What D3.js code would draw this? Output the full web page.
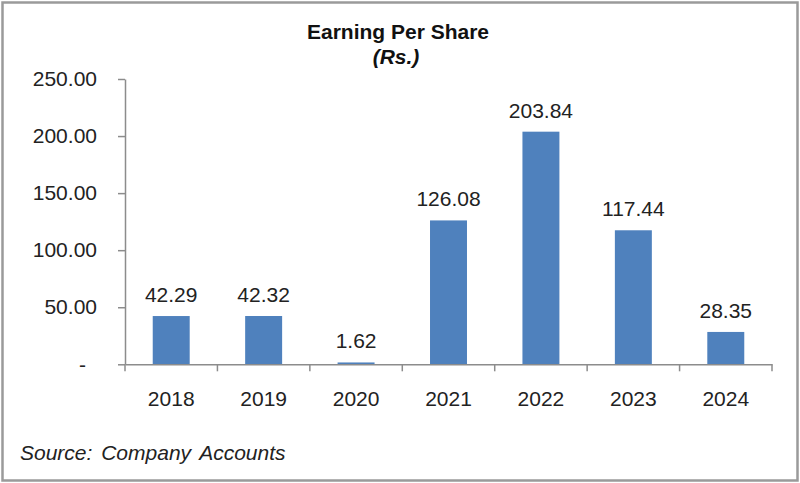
<!DOCTYPE html>
<html>
<head>
<meta charset="utf-8">
<script src="https://cdn.jsdelivr.net/npm/d3@7"></script>
<style>
  html, body { margin: 0; padding: 0; background: #fff; }
  svg { display: block; font-family: "Liberation Sans", Arial, sans-serif; }
</style>
</head>
<body>
<div id="chart"></div>
<script>
// data
const years = ["2018", "2019", "2020", "2021", "2022", "2023", "2024"];
const eps = [42.29, 42.32, 1.62, 126.08, 203.84, 117.44, 28.35];
const yTicks = [0, 50, 100, 150, 200, 250];

const W = 800, H = 483;
const plot = { left: 125, right: 772, top: 79, bottom: 364.3 };

const svg = d3.select("#chart").append("svg")
  .attr("width", W)
  .attr("height", H);

// outer frame
svg.append("rect")
  .attr("x", 2.5).attr("y", 2.5)
  .attr("width", W - 5).attr("height", H - 5)
  .attr("fill", "#fff")
  .attr("stroke", "#9a9a9a")
  .attr("stroke-width", 2.5);

// titles
svg.append("text")
  .attr("x", 398).attr("y", 39)
  .attr("text-anchor", "middle")
  .attr("font-size", 21).attr("font-weight", "bold")
  .attr("fill", "#111")
  .text("Earning Per Share");

svg.append("text")
  .attr("x", 396).attr("y", 64)
  .attr("text-anchor", "middle")
  .attr("font-size", 21).attr("font-weight", "bold").attr("font-style", "italic")
  .attr("fill", "#111")
  .text("(Rs.)");

// scales
const x = d3.scaleBand()
  .domain(years)
  .range([plot.left, plot.right])
  .paddingInner(0.6)
  .paddingOuter(0.3);

const y = d3.scaleLinear()
  .domain([0, 250])
  .range([plot.bottom, plot.top]);

// y axis
const yAxis = svg.append("g")
  .attr("transform", `translate(${plot.left},0)`)
  .call(d3.axisLeft(y)
    .tickValues(yTicks)
    .tickSize(7)
    .tickSizeOuter(0)
    .tickPadding(21)
    .tickFormat(d => d === 0 ? "-" : d3.format(".2f")(d)));

yAxis.select(".domain").attr("stroke", "#8c8c8c").attr("stroke-width", 1.5);
yAxis.selectAll(".tick line").attr("stroke", "#8c8c8c").attr("stroke-width", 1.5);
yAxis.selectAll(".tick text")
  .attr("font-size", 21)
  .attr("fill", "#222")
  .attr("font-family", "Liberation Sans, Arial, sans-serif");
yAxis.selectAll(".tick text").filter(d => d === 0).attr("dx", -11);

// bars
svg.append("g")
  .selectAll("rect")
  .data(eps)
  .join("rect")
  .attr("x", (d, i) => x(years[i]))
  .attr("y", d => y(d))
  .attr("width", x.bandwidth())
  .attr("height", d => y(0) - y(d))
  .attr("fill", "#4f81bd");

// value labels
svg.append("g")
  .selectAll("text")
  .data(eps)
  .join("text")
  .attr("x", (d, i) => x(years[i]) + x.bandwidth() / 2)
  .attr("y", d => y(d) - 14)
  .attr("text-anchor", "middle")
  .attr("font-size", 21)
  .attr("fill", "#222")
  .text(d => d3.format(".2f")(d));

// x axis
const xAxis = svg.append("g")
  .attr("transform", `translate(0,${plot.bottom})`)
  .call(d3.axisBottom(x).tickSize(0).tickSizeOuter(0).tickPadding(27));

xAxis.select(".domain").attr("stroke", "#8c8c8c").attr("stroke-width", 1.5);
xAxis.selectAll(".tick text")
  .attr("font-size", 21)
  .attr("fill", "#222")
  .attr("font-family", "Liberation Sans, Arial, sans-serif");

// tick marks between categories
const bounds = d3.range(years.length + 1).map(i => plot.left + i * x.step());
xAxis.selectAll(".sep")
  .data(bounds)
  .join("line")
  .attr("class", "sep")
  .attr("x1", d => d).attr("x2", d => d)
  .attr("y1", 0).attr("y2", 7)
  .attr("stroke", "#8c8c8c")
  .attr("stroke-width", 1.5);

// source note
svg.append("text")
  .attr("x", 20).attr("y", 460)
  .attr("font-size", 21).attr("font-style", "italic")
  .attr("word-spacing", 3)
  .attr("fill", "#222")
  .text("Source: Company Accounts");
</script>
</body>
</html>
